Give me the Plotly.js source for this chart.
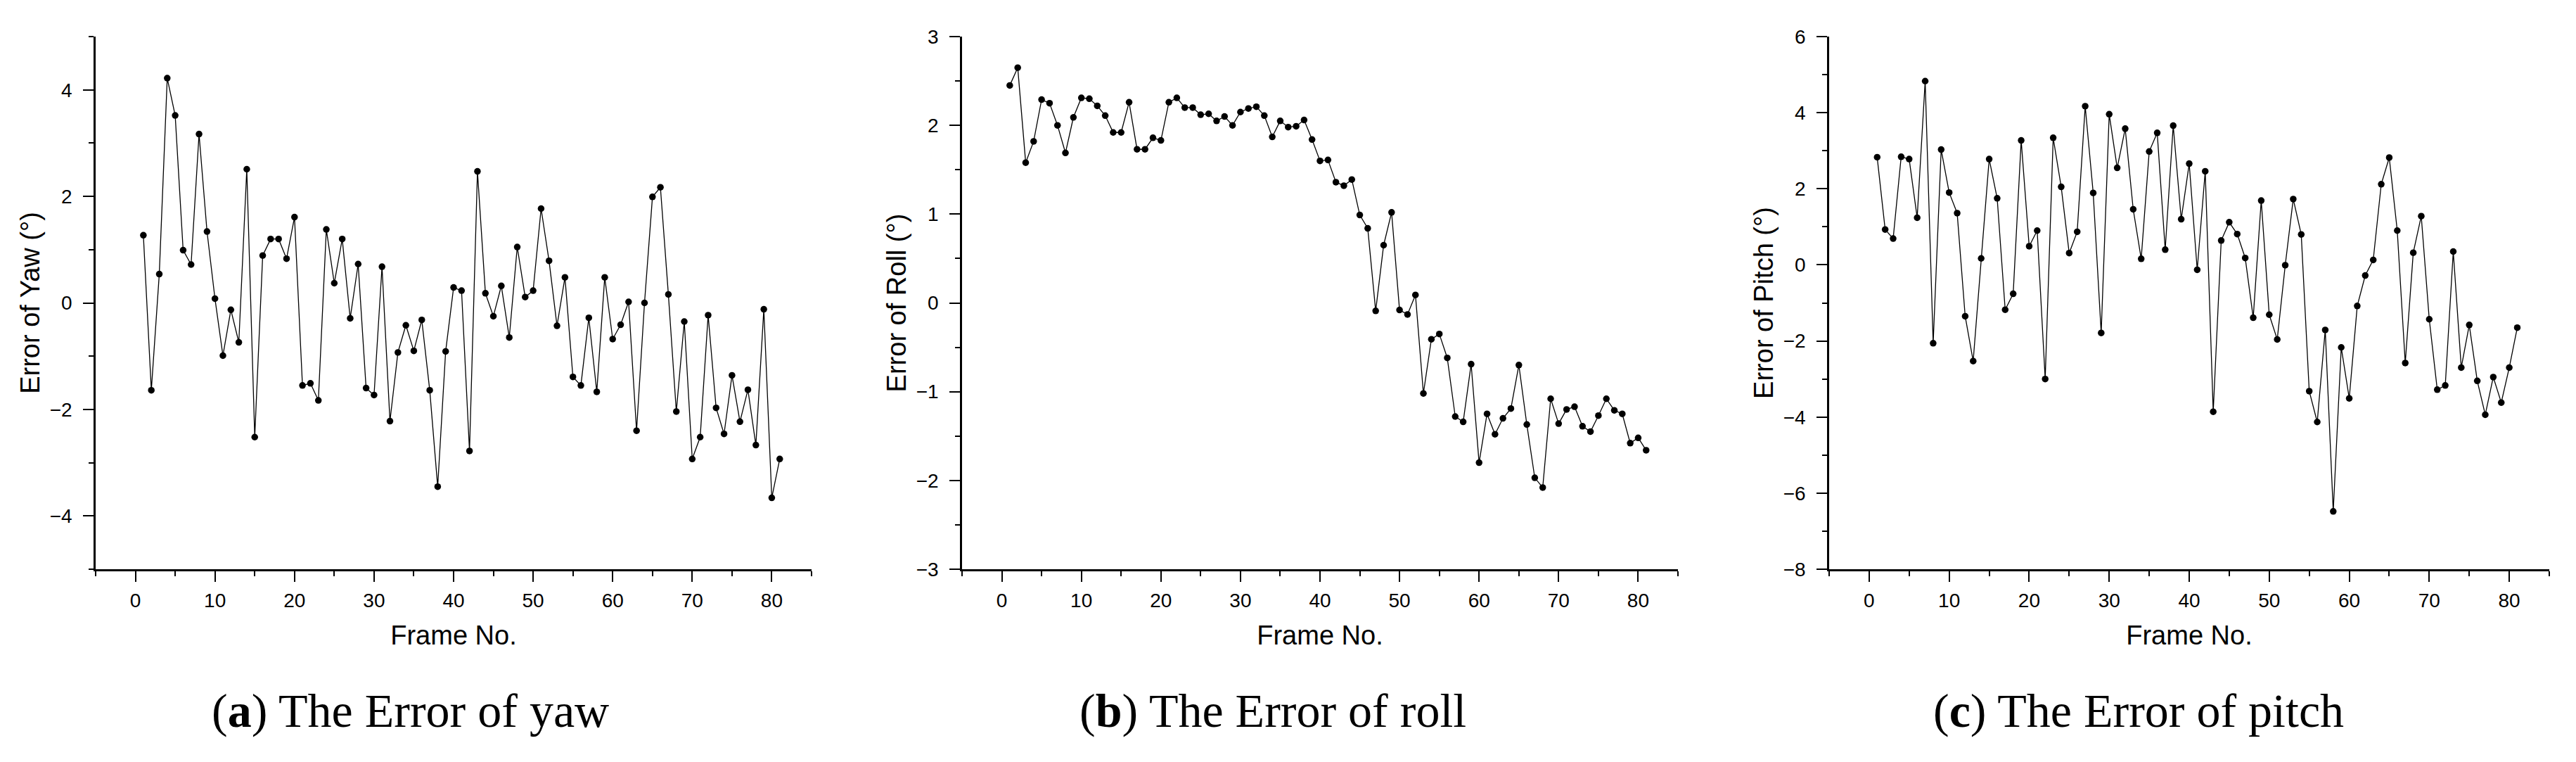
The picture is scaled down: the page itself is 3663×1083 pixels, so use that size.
<!DOCTYPE html>
<html>
<head>
<meta charset="utf-8">
<script src="https://cdn.plot.ly/plotly-3.0.1.min.js"></script>
<style>
  html, body { margin: 0; padding: 0; background: #fff; }
</style>
</head>
<body>
<div id="myPlot" style="width:3663px;height:1083px;"></div>
<script>
// frame numbers (x for all three panels)
const frames = [1, 2, 3, 4, 5, 6, 7, 8, 9, 10, 11, 12, 13, 14, 15, 16, 17, 18, 19, 20,
  21, 22, 23, 24, 25, 26, 27, 28, 29, 30, 31, 32, 33, 34, 35, 36, 37, 38, 39, 40,
  41, 42, 43, 44, 45, 46, 47, 48, 49, 50, 51, 52, 53, 54, 55, 56, 57, 58, 59, 60,
  61, 62, 63, 64, 65, 66, 67, 68, 69, 70, 71, 72, 73, 74, 75, 76, 77, 78, 79, 80, 81];

// error of yaw (deg)
const yawErr = [1.27, -1.64, 0.54, 4.22, 3.52, 0.99, 0.72, 3.17, 1.34, 0.08,
  -0.99, -0.13, -0.74, 2.51, -2.52, 0.89, 1.20, 1.20, 0.83, 1.61,
  -1.55, -1.51, -1.83, 1.38, 0.37, 1.20, -0.29, 0.73, -1.60, -1.73,
  0.68, -2.22, -0.93, -0.42, -0.90, -0.32, -1.64, -3.45, -0.91, 0.29,
  0.23, -2.78, 2.47, 0.18, -0.25, 0.32, -0.65, 1.05, 0.11, 0.23,
  1.77, 0.79, -0.43, 0.48, -1.39, -1.55, -0.28, -1.67, 0.48, -0.68,
  -0.41, 0.02, -2.40, 0.00, 1.99, 2.17, 0.16, -2.04, -0.35, -2.93,
  -2.52, -0.23, -1.97, -2.46, -1.36, -2.23, -1.63, -2.67, -0.12, -3.66, -2.93];

// error of roll (deg)
const rollErr = [2.45, 2.65, 1.58, 1.82, 2.29, 2.25, 2.00, 1.69, 2.09, 2.31,
  2.30, 2.22, 2.11, 1.92, 1.92, 2.26, 1.73, 1.73, 1.86, 1.83,
  2.26, 2.31, 2.20, 2.20, 2.12, 2.13, 2.05, 2.10, 2.00, 2.15,
  2.19, 2.21, 2.11, 1.87, 2.05, 1.98, 1.99, 2.06, 1.84, 1.60,
  1.61, 1.36, 1.32, 1.39, 0.99, 0.84, -0.09, 0.65, 1.02, -0.08,
  -0.13, 0.09, -1.02, -0.41, -0.35, -0.62, -1.28, -1.34, -0.69, -1.80,
  -1.25, -1.48, -1.30, -1.19, -0.70, -1.37, -1.97, -2.08, -1.08, -1.36,
  -1.20, -1.17, -1.39, -1.45, -1.27, -1.08, -1.21, -1.25, -1.58, -1.52, -1.66];

// error of pitch (deg)
const pitchErr = [2.83, 0.93, 0.69, 2.84, 2.78, 1.24, 4.83, -2.06, 3.03, 1.90,
  1.36, -1.35, -2.53, 0.17, 2.78, 1.75, -1.18, -0.76, 3.27, 0.49,
  0.90, -3.00, 3.34, 2.05, 0.31, 0.87, 4.17, 1.89, -1.79, 3.96,
  2.55, 3.58, 1.46, 0.16, 2.98, 3.47, 0.40, 3.66, 1.20, 2.66,
  -0.13, 2.46, -3.86, 0.64, 1.12, 0.81, 0.18, -1.39, 1.69, -1.31,
  -1.96, -0.01, 1.73, 0.80, -3.32, -4.13, -1.71, -6.48, -2.17, -3.51,
  -1.08, -0.28, 0.13, 2.12, 2.82, 0.90, -2.58, 0.32, 1.28, -1.43,
  -3.28, -3.17, 0.35, -2.70, -1.58, -3.05, -3.94, -2.95, -3.62, -2.70, -1.65];

const yTitles = ["Error of Yaw (°)", "Error of Roll (°)", "Error of Pitch (°)"];
const captions = ["(<b>a</b>) The Error of yaw", "(<b>b</b>) The Error of roll", "(<b>c</b>) The Error of pitch"];
const yRanges = [[-5, 5], [-3, 3], [-8, 6]];
const yDticks = [2, 1, 2];

const W = 3663, H = 1083;
// plot boxes in pixels (left, right), shared top/bottom
const boxes = [[136, 1154], [1368, 2386], [2601, 3625]];
const capX = [583, 1810, 3041];
const plotTop = 52, plotBottom = 809;

const series = [yawErr, rollErr, pitchErr];

const data = series.map((vals, i) => ({
  x: frames,
  y: vals,
  type: "scatter",
  mode: "lines+markers",
  xaxis: i === 0 ? "x" : "x" + (i + 1),
  yaxis: i === 0 ? "y" : "y" + (i + 1),
  line: { color: "black", width: 1.3 },
  marker: { color: "black", size: 9.5 },
  showlegend: false
}));

const tickFont = { family: "Liberation Sans, Arial", size: 28, color: "black" };
const titleFont = { family: "Liberation Sans, Arial", size: 38, color: "black" };

const layout = {
  width: W,
  height: H,
  margin: { l: 0, r: 0, t: 0, b: 0 },
  paper_bgcolor: "white",
  plot_bgcolor: "white",
  annotations: []
};

boxes.forEach((b, i) => {
  const sfx = i === 0 ? "" : String(i + 1);
  layout["xaxis" + sfx] = {
    domain: [b[0] / W, b[1] / W],
    anchor: "y" + sfx,
    range: [-5, 85],
    tick0: 0,
    dtick: 10,
    ticks: "outside",
    ticklen: 15,
    tickwidth: 2,
    tickcolor: "black",
    ticklabelstandoff: 3,
    minor: { dtick: 5, tick0: 0, ticks: "outside", ticklen: 7, tickwidth: 2, tickcolor: "black", showgrid: false },
    showline: true,
    linewidth: 2.5,
    linecolor: "black",
    showgrid: false,
    zeroline: false,
    tickfont: tickFont,
    title: { text: "Frame No.", font: titleFont, standoff: 22 }
  };
  layout["yaxis" + sfx] = {
    domain: [1 - plotBottom / H, 1 - plotTop / H],
    anchor: "x" + sfx,
    range: yRanges[i],
    tick0: 0,
    dtick: yDticks[i],
    ticks: "outside",
    ticklen: 15,
    tickwidth: 2,
    tickcolor: "black",
    ticklabelstandoff: 10,
    minor: { dtick: yDticks[i] / 2, ticks: "outside", ticklen: 7, tickwidth: 2, tickcolor: "black", showgrid: false },
    showline: true,
    linewidth: 2.5,
    linecolor: "black",
    showgrid: false,
    zeroline: false,
    tickfont: tickFont,
    title: { text: yTitles[i], font: titleFont, standoff: 3 }
  };
  layout.annotations.push({
    text: captions[i],
    xref: "paper",
    yref: "paper",
    x: capX[i] / W,
    y: 1 - 1010 / H,
    xanchor: "center",
    yanchor: "middle",
    showarrow: false,
    font: { family: "Liberation Serif, Times New Roman", size: 68, color: "black" }
  });
});

Plotly.newPlot("myPlot", data, layout, { displayModeBar: false });
</script>
</body>
</html>
